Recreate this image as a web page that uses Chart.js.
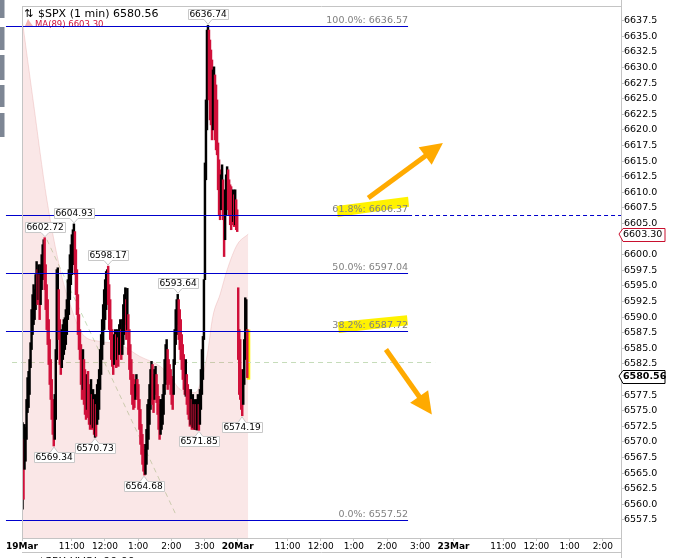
<!DOCTYPE html>
<html>
<head>
<meta charset="utf-8">
<script src="https://cdn.jsdelivr.net/npm/chart.js@4.4.1/dist/chart.umd.min.js"></script>
<style>
  html, body { margin: 0; padding: 0; background: #fff; }
  #wrap { width: 700px; height: 558px; }
</style>
</head>
<body>
<div id="wrap"><canvas id="grafico" width="700" height="558"></canvas></div>
<script>
// x axis: trading minutes since 19Mar 9:30 (390 per session)
const tickMinutes = [0, 90, 150, 210, 270, 330, 390, 480, 540, 600, 660, 720, 780, 870, 930, 990, 1050];
const tickLabels = ["19Mar", "11:00", "12:00", "1:00", "2:00", "3:00", "20Mar", "11:00", "12:00", "1:00", "2:00", "3:00", "23Mar", "11:00", "12:00", "1:00", "2:00"];
const priceTicks = [6557.5, 6560, 6562.5, 6565, 6567.5, 6570, 6572.5, 6575, 6577.5, 6580, 6582.5, 6585, 6587.5,
  6590, 6592.5, 6595, 6597.5, 6600, 6602.5, 6605, 6607.5, 6610, 6612.5, 6615, 6617.5, 6620, 6622.5, 6625,
  6627.5, 6630, 6632.5, 6635, 6637.5];

// 19Mar bars (high / low), left to right
const day1Highs = [6573.1, 6570.4, 6572.8, 6572.3, 6576.8, 6580.3, 6581.3, 6583.2, 6585.9, 6591.2,
  6593.6, 6595.2, 6594.4, 6596.8, 6598.9, 6597.6, 6598.4, 6596.8, 6598.4, 6600.0,
  6601.6, 6602.4, 6602.72, 6598.4, 6595.2, 6592.8, 6589.6, 6586.4, 6583.2, 6580.0,
  6576.8, 6575.2, 6577.6, 6584.8, 6597.6, 6597.9, 6594.4, 6589.6, 6587.2, 6588.0,
  6588.8, 6589.6, 6589.9, 6591.2, 6592.8, 6596.0, 6597.6, 6600.0, 6601.6, 6603.2,
  6604.0, 6604.93, 6603.7, 6600.8, 6597.6, 6593.6, 6590.4, 6588.0, 6585.6, 6583.2,
  6584.8, 6583.2, 6581.6, 6580.0, 6580.8, 6581.3, 6579.2, 6578.4, 6580.0, 6577.6,
  6578.4, 6576.8, 6577.6, 6576.0, 6579.2, 6580.0, 6581.6, 6584.8, 6587.2, 6589.6,
  6592.0, 6594.4, 6596.0, 6597.3, 6597.6, 6598.17, 6595.2, 6592.8, 6589.6, 6588.0,
  6586.4, 6587.2, 6588.0, 6587.2, 6588.0, 6586.7, 6588.8, 6589.6, 6588.0, 6589.6,
  6592.0, 6593.6, 6594.7, 6592.8, 6594.6, 6590.4, 6588.0, 6585.6, 6583.2, 6580.8,
  6580.8, 6580.0, 6579.2, 6580.8, 6580.0, 6579.2, 6576.8, 6575.2, 6572.8, 6571.2,
  6569.6, 6568.8, 6569.6, 6572.0, 6576.0, 6576.8, 6579.2, 6581.6, 6582.9, 6582.4,
  6580.8, 6581.6, 6582.1, 6580.8, 6579.2, 6577.3, 6576.0, 6576.8, 6576.8, 6577.6,
  6579.2, 6583.2, 6585.6, 6586.4, 6584.8, 6583.2, 6582.4, 6581.6, 6580.5, 6580.0,
  6583.2, 6588.0, 6591.2, 6592.8, 6593.64, 6592.8, 6591.2, 6589.6, 6587.2, 6585.6,
  6584.0, 6582.4, 6583.2, 6580.8, 6579.2, 6578.4, 6577.6, 6578.4, 6576.8, 6577.6,
  6576.0, 6576.8, 6576.0, 6576.8, 6577.6, 6576.0, 6578.4, 6581.6, 6584.8, 6586.9,
  6596.0, 6614.7, 6624.8, 6636.0, 6636.74, 6636.0, 6634.4, 6632.8, 6631.2, 6629.6,
  6630.1, 6628.8, 6627.2, 6624.8, 6617.9, 6615.2, 6613.6, 6612.8, 6614.4, 6612.0,
  6608.8, 6610.4, 6612.8, 6614.1, 6613.6, 6612.0, 6611.2, 6610.9, 6609.6, 6610.4,
  6609.6, 6610.4, 6608.8, 6607.2];
const day1Lows = [6559.2, 6560.8, 6565.6, 6566.9, 6570.4, 6574.7, 6575.5, 6577.6, 6581.9, 6584.8,
  6587.2, 6588.8, 6589.6, 6591.2, 6592.8, 6592.0, 6592.8, 6589.6, 6592.0, 6594.4,
  6596.0, 6596.8, 6594.4, 6591.2, 6588.0, 6585.6, 6582.4, 6579.2, 6576.8, 6573.6,
  6571.2, 6569.34, 6570.4, 6573.6, 6583.2, 6589.6, 6586.4, 6582.4, 6580.8, 6581.9,
  6583.2, 6584.0, 6584.8, 6585.6, 6587.2, 6589.6, 6590.4, 6592.8, 6595.2, 6596.8,
  6598.4, 6598.9, 6596.8, 6593.6, 6590.4, 6587.2, 6584.8, 6583.2, 6579.2, 6576.8,
  6578.4, 6576.0, 6574.4, 6573.6, 6575.2, 6573.9, 6572.8, 6572.0, 6572.8, 6572.0,
  6572.3, 6571.2, 6570.73, 6570.9, 6572.8, 6573.6, 6575.2, 6578.4, 6580.8, 6583.2,
  6585.6, 6588.0, 6589.6, 6591.2, 6592.8, 6592.0, 6588.0, 6586.4, 6583.2, 6582.1,
  6580.8, 6582.4, 6583.2, 6581.9, 6583.2, 6582.1, 6584.0, 6584.8, 6583.2, 6584.0,
  6585.6, 6587.2, 6588.8, 6586.4, 6588.0, 6584.0, 6581.6, 6580.0, 6577.6, 6576.0,
  6575.2, 6575.5, 6576.8, 6577.3, 6576.8, 6575.2, 6572.0, 6569.6, 6568.0, 6566.4,
  6565.3, 6564.68, 6564.8, 6566.4, 6568.8, 6570.4, 6572.8, 6575.2, 6576.8, 6576.0,
  6574.7, 6576.8, 6577.6, 6576.3, 6574.4, 6572.0, 6570.4, 6571.2, 6572.0, 6572.8,
  6574.4, 6577.6, 6579.2, 6580.0, 6578.4, 6579.2, 6579.5, 6577.6, 6576.0, 6575.2,
  6577.6, 6582.4, 6585.6, 6587.2, 6588.8, 6586.4, 6584.8, 6583.2, 6581.6, 6580.0,
  6578.4, 6577.6, 6577.3, 6576.0, 6574.4, 6573.6, 6572.5, 6572.8, 6572.0, 6572.3,
  6572.0, 6572.0, 6572.0, 6571.9, 6572.3, 6571.85, 6572.8, 6575.2, 6577.6, 6580.0,
  6586.4, 6596.0, 6612.0, 6620.0, 6631.2, 6624.8, 6621.6, 6620.8, 6618.4, 6620.0,
  6620.8, 6618.4, 6616.8, 6616.0, 6610.4, 6606.4, 6605.6, 6607.2, 6608.0, 6605.6,
  6599.7, 6602.4, 6606.4, 6608.0, 6607.2, 6606.4, 6604.8, 6604.0, 6604.8, 6605.3,
  6604.5, 6604.8, 6604.0, 6603.7];

// 20Mar bars so far
const day2Highs = [6594.7, 6588.0, 6586.4, 6581.6, 6579.2, 6581.6, 6586.4, 6593.1, 6592.8, 6588.0];
const day2Lows = [6583.2, 6577.6, 6576.8, 6575.2, 6574.19, 6576.0, 6579.2, 6583.2, 6586.4, 6580.3];
const lastPrice = 6580.56;

// MA(89), shaded
const maMinutes = [0, 20, 45, 69, 87, 110, 141, 177, 213, 250, 268, 286, 313, 322, 335, 345, 358, 371, 389, 409];
const maValues = [6637.9, 6624.8, 6608.8, 6597.6, 6592.0, 6587.2, 6586.1, 6585.6, 6583.7, 6582.1,
  6580.5, 6578.4, 6577.9, 6579.2, 6584.0, 6590.1, 6593.6, 6597.6, 6601.6, 6603.3];
const maLast = 6603.30;

// labelled extremes
const peakLabels = [6636.74, 6604.93, 6602.72, 6598.17, 6593.64];
const troughLabels = [6569.34, 6570.73, 6564.68, 6571.85, 6574.19];

// fibonacci retracement
const fibLevels = [6636.57, 6606.37, 6597.04, 6587.72, 6557.52];
const fibNames = ["100.0%", "61.8%", "50.0%", "38.2%", "0.0%"];
const fibSpan = [-29, 698];

// other drawings (minute, price)
const refLine = [-18, 747, 6582.8];
const trendLine = [45, 6602.4, 280, 6558.0];
const arrowUp = [626, 6609.1, 761, 6617.9];
const arrowDown = [658, 6584.8, 741, 6574.4];
const markerA = [569, 6607.0, 698, 6608.5];
const markerB = [571, 6588.4, 696, 6589.5];

const black = "#000000";
const red = "#d0103a";
const font = "DejaVu Sans";

const step = 390 / day1Highs.length;
const bars = [];
day1Highs.forEach((h, i) => bars.push({ x: (i + 0.5) * step, y: [day1Lows[i], h] }));
day2Highs.forEach((h, i) => bars.push({ x: 390 + (i + 0.5) * step, y: [day2Lows[i], h] }));

const barColors = bars.map((b, i) => {
  if (i === 0) return black;
  const mid = (b.y[0] + b.y[1]) / 2;
  const prev = (bars[i - 1].y[0] + bars[i - 1].y[1]) / 2;
  return mid < prev ? red : black;
});

function seg(c, x1, y1, x2, y2) {
  c.beginPath();
  c.moveTo(x1, y1);
  c.lineTo(x2, y2);
  c.stroke();
}

function arrow(c, x1, y1, x2, y2) {
  const a = Math.atan2(y2 - y1, x2 - x1);
  const len = 22, half = 11;
  const bx = x2 - len * Math.cos(a), by = y2 - len * Math.sin(a);
  c.strokeStyle = "#ffaa00";
  c.fillStyle = "#ffaa00";
  c.lineWidth = 5;
  c.lineCap = "butt";
  seg(c, x1, y1, bx + 4 * Math.cos(a), by + 4 * Math.sin(a));
  c.beginPath();
  c.moveTo(x2, y2);
  c.lineTo(bx + half * Math.sin(a), by - half * Math.cos(a));
  c.lineTo(bx - half * Math.sin(a), by + half * Math.cos(a));
  c.closePath();
  c.fill();
}

function marker(c, x1, y1, x2, y2) {
  c.fillStyle = "#fff200";
  c.beginPath();
  c.moveTo(x1, y1 - 5);
  c.lineTo(x2, y2 - 5);
  c.lineTo(x2 + 1, y2 + 5);
  c.lineTo(x1 + 1, y1 + 6);
  c.closePath();
  c.fill();
}

function tagBox(c, text, bx, by, up) {
  c.font = "9px " + font;
  const w = Math.round(c.measureText(text).width) + 3;
  const h = 10;
  const L = Math.round(bx - w / 2) + 0.5, R = L + w;
  const T = up ? Math.round(by - 6 - h) + 0.5 : Math.round(by + 6) + 0.5;
  const B = T + h;
  c.beginPath();
  if (up) {
    c.moveTo(L, T); c.lineTo(R, T); c.lineTo(R, B);
    c.lineTo(bx + 4, B); c.lineTo(bx, by - 1); c.lineTo(bx - 4, B); c.lineTo(L, B);
  } else {
    c.moveTo(L, T); c.lineTo(bx - 4, T); c.lineTo(bx, by + 1); c.lineTo(bx + 4, T);
    c.lineTo(R, T); c.lineTo(R, B); c.lineTo(L, B);
  }
  c.closePath();
  c.fillStyle = "#ffffff";
  c.fill();
  c.strokeStyle = "#c8c8c8";
  c.lineWidth = 1;
  c.stroke();
  c.fillStyle = "#000";
  c.textAlign = "center";
  c.textBaseline = "middle";
  c.fillText(text, bx, T + h / 2 + 0.5);
}

function axisBox(c, text, yy, border, bold) {
  const L = 619, R = 665, h = 13;
  const T = Math.round(yy - h / 2) + 0.5, B = T + h;
  c.beginPath();
  c.moveTo(L, yy);
  c.lineTo(L + 4, T);
  c.lineTo(R, T);
  c.lineTo(R, B);
  c.lineTo(L + 4, B);
  c.closePath();
  c.fillStyle = "#fff";
  c.fill();
  c.strokeStyle = border;
  c.lineWidth = 1;
  c.stroke();
  c.fillStyle = "#000";
  c.font = (bold ? "bold " : "") + "9.5px " + font;
  c.textAlign = "left";
  c.textBaseline = "middle";
  c.fillText(text, L + 4, yy + 0.5);
}

const drawings = {
  id: "drawings",
  beforeDatasetsDraw(chart) {
    const c = chart.ctx;
    const { x, y } = chart.scales;
    c.save();
    // highlight of the live bar
    const last = bars[bars.length - 1];
    const lx = x.getPixelForValue(last.x);
    c.fillStyle = "#fff200";
    c.fillRect(lx - 0.5, y.getPixelForValue(last.y[1]), 3.5,
      y.getPixelForValue(last.y[0]) - y.getPixelForValue(last.y[1]) + 2);
    // green dashed guides
    c.strokeStyle = "#c6dcba";
    c.lineWidth = 1;
    c.setLineDash([5, 4]);
    const ry = Math.round(y.getPixelForValue(refLine[2])) + 0.5;
    seg(c, x.getPixelForValue(refLine[0]), ry, x.getPixelForValue(refLine[1]), ry);
    seg(c, x.getPixelForValue(trendLine[0]), y.getPixelForValue(trendLine[1]),
      x.getPixelForValue(trendLine[2]), y.getPixelForValue(trendLine[3]));
    c.restore();
  },
  afterDatasetsDraw(chart) {
    const c = chart.ctx;
    const { x, y } = chart.scales;
    const px = (m) => x.getPixelForValue(m);
    const py = (p) => y.getPixelForValue(p);
    c.save();

    // title
    c.fillStyle = "#000";
    c.textBaseline = "alphabetic";
    c.textAlign = "left";
    c.font = "11px " + font;
    c.fillText("⇅", 24, 17);
    c.fillText("$SPX (1 min) " + lastPrice.toFixed(2), 38, 17);
    c.fillStyle = "#f2b4b4";
    c.beginPath();
    c.moveTo(25, 26); c.lineTo(28, 19); c.lineTo(30, 22); c.lineTo(33, 26);
    c.closePath();
    c.fill();
    c.fillStyle = red;
    c.font = "8.5px " + font;
    c.fillText("MA(89) " + maLast.toFixed(2), 35, 27);

    // yellow markers behind two fib labels
    marker(c, px(markerA[0]), py(markerA[1]), px(markerA[2]), py(markerA[3]));
    marker(c, px(markerB[0]), py(markerB[1]), px(markerB[2]), py(markerB[3]));

    // fib lines + labels
    c.strokeStyle = "#0000cc";
    c.lineWidth = 1;
    fibLevels.forEach((lv, i) => {
      const ly = Math.round(py(lv)) + 0.5;
      c.setLineDash([]);
      seg(c, px(fibSpan[0]), ly, px(fibSpan[1]), ly);
      if (i === 1) {
        c.setLineDash([4, 3]);
        seg(c, px(fibSpan[1]), ly, chart.chartArea.right, ly);
      }
      c.fillStyle = "#808080";
      c.font = "9.5px " + font;
      c.textAlign = "right";
      c.textBaseline = "alphabetic";
      c.fillText(fibNames[i] + ": " + lv.toFixed(2), px(fibSpan[1]), ly - 4);
    });
    c.setLineDash([]);

    // orange arrows
    arrow(c, px(arrowUp[0]), py(arrowUp[1]), px(arrowUp[2]), py(arrowUp[3]));
    arrow(c, px(arrowDown[0]), py(arrowDown[1]), px(arrowDown[2]), py(arrowDown[3]));

    // labelled highs and lows
    peakLabels.forEach((v) => {
      const b = bars.find((bb) => bb.y[1] === v);
      if (b) tagBox(c, v.toFixed(2), Math.round(px(b.x)), py(v), true);
    });
    troughLabels.forEach((v) => {
      const b = bars.find((bb) => bb.y[0] === v);
      if (b) tagBox(c, v.toFixed(2), Math.round(px(b.x)), py(v), false);
    });
    c.restore();
  },
  afterDraw(chart) {
    const c = chart.ctx;
    const { y } = chart.scales;
    const a = chart.chartArea;
    c.save();
    c.strokeStyle = "#c4c4c4";
    c.lineWidth = 1;
    seg(c, a.left + 0.5, a.top, a.left + 0.5, a.bottom);
    seg(c, a.left, a.top + 0.5, a.right, a.top + 0.5);
    seg(c, a.right + 0.5, 0, a.right + 0.5, 558);
    seg(c, a.left, 552.5, a.right, 552.5);
    // side tabs
    c.fillStyle = "#7d8694";
    [[0, 18], [27, 50], [55, 80], [85, 107], [113, 137]].forEach((t) => c.fillRect(0, t[0], 4.5, t[1] - t[0]));
    // lower pane title, cut by the window
    c.fillStyle = "#000";
    c.font = "11px " + font;
    c.textAlign = "left";
    c.textBaseline = "alphabetic";
    c.fillText("$SPX UVOL 90.00", 38, 565);
    // price boxes on the axis
    axisBox(c, maLast.toFixed(2), Math.round(y.getPixelForValue(maLast)), "#c8102e", false);
    axisBox(c, lastPrice.toFixed(2), Math.round(y.getPixelForValue(lastPrice)), "#000", true);
    c.restore();
  }
};

const ctx = document.getElementById("grafico").getContext("2d");
new Chart(ctx, {
  type: "bar",
  data: {
    datasets: [
      {
        type: "bar",
        data: bars,
        backgroundColor: barColors,
        barThickness: 1.8,
        order: 0
      },
      {
        type: "line",
        data: maMinutes.map((m, i) => ({ x: m, y: maValues[i] })),
        fill: "start",
        backgroundColor: "rgba(225,120,120,0.18)",
        borderColor: "rgba(225,150,150,0.3)",
        borderWidth: 1,
        pointRadius: 0,
        cubicInterpolationMode: "monotone",
        order: 1
      }
    ]
  },
  options: {
    responsive: false,
    animation: false,
    layout: { padding: { top: 6, left: 22, right: 0, bottom: 0 } },
    plugins: { legend: { display: false }, tooltip: { enabled: false } },
    scales: {
      x: {
        type: "linear",
        position: "bottom",
        min: 0,
        max: 1083,
        offset: false,
        afterBuildTicks: (s) => { s.ticks = tickMinutes.map((v) => ({ value: v })); },
        afterFit: (s) => { s.height = 20; },
        ticks: {
          autoSkip: false,
          maxRotation: 0,
          padding: 0,
          color: "#000",
          callback: (v, i) => tickLabels[i],
          font: (c) => ({ family: font, size: 9, weight: /Mar/.test(tickLabels[c.index] || "") ? "bold" : "normal" })
        },
        grid: { drawOnChartArea: false, tickLength: 3, color: "#c4c4c4", offset: false },
        border: { color: "#c4c4c4" }
      },
      y: {
        position: "right",
        min: 6554.6,
        max: 6639.85,
        afterBuildTicks: (s) => { s.ticks = priceTicks.map((v) => ({ value: v })); },
        afterFit: (s) => { s.width = 79; },
        ticks: {
          padding: 0,
          color: "#000",
          font: { family: font, size: 9.5 },
          callback: (v) => Number(v).toFixed(1)
        },
        grid: { drawOnChartArea: false, tickLength: 3, color: "#c4c4c4" },
        border: { color: "#c4c4c4" }
      }
    }
  },
  plugins: [drawings]
});
</script>
</body>
</html>
